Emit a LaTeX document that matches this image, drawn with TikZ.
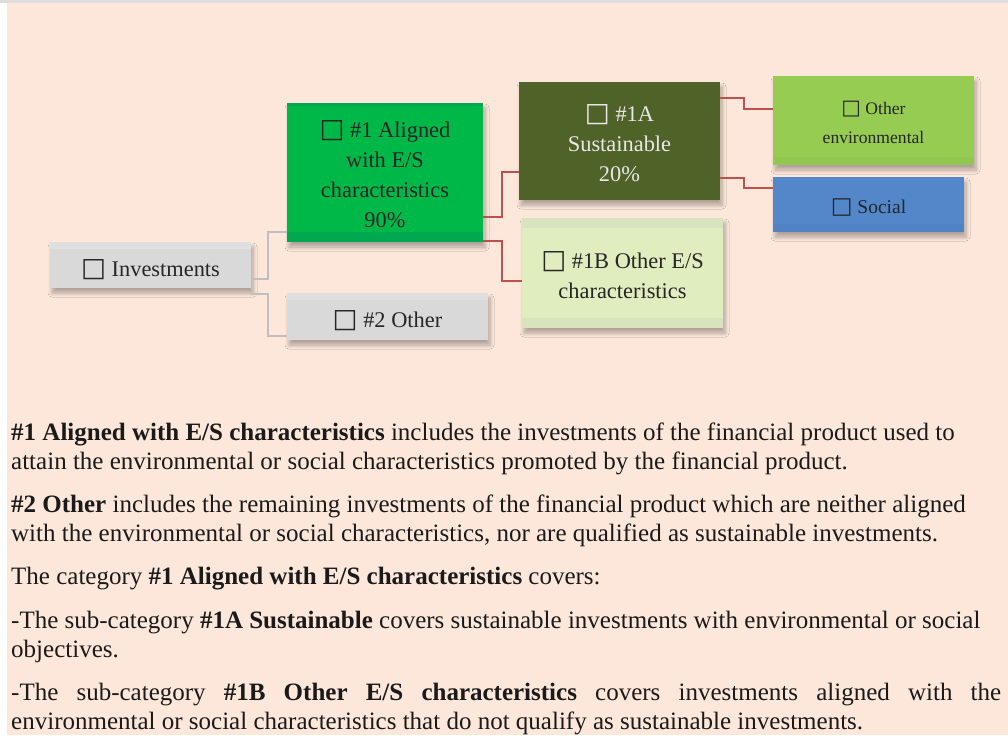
\documentclass[tikz,border=0pt]{standalone}
\usepackage{fontspec}
\setmainfont{Liberation Serif}
\newfontfamily\symf{DejaVu Sans}[Scale=1.18]
\newcommand{\sqb}{{\symf □}}
\usetikzlibrary{shadows.blur}
\definecolor{peach}{HTML}{FCE7DA}
\definecolor{topline}{HTML}{DDDDDD}
\definecolor{graybox}{HTML}{D9D9D9}
\definecolor{grayband}{HTML}{DFDFDF}
\definecolor{greenbox}{HTML}{00B847}
\definecolor{greenband}{HTML}{00A94F}
\definecolor{olivebox}{HTML}{4F6228}
\definecolor{palebox}{HTML}{E0EDBF}
\definecolor{paleband}{HTML}{D8E4BE}
\definecolor{envbox}{HTML}{97CC53}
\definecolor{envband}{HTML}{92C851}
\definecolor{socbox}{HTML}{5387CA}
\definecolor{socband}{HTML}{4F83C6}
\definecolor{boxtext}{HTML}{262626}
\definecolor{lighttext}{HTML}{E8E8E8}
\definecolor{glinec}{HTML}{BFBFBF}
\definecolor{rlinec}{HTML}{C0504D}
\definecolor{bodytext}{HTML}{1A1A1A}
\begin{document}
\begin{tikzpicture}[x=1pt,y=-1pt,
  box/.style={inner sep=0pt,
    blur shadow={shadow xshift=2pt, shadow yshift=-5pt, shadow blur radius=4pt, shadow opacity=30, shadow blur steps=8}},
  lbl/.style={inner sep=0pt, align=center, text=boxtext},
  bigtext/.style={font=\fontsize{22.4}{30}\selectfont},
  gline/.style={draw=glinec, line width=1.6pt},
  rline/.style={draw=rlinec, line width=1.5pt},
  body/.style={anchor=base west, inner sep=0pt, text=bodytext, font=\fontsize{25}{28.8}\selectfont}]
\useasboundingbox (0,0) rectangle (1008,738);
\fill[white] (0,0) rectangle (1008,738);
\fill[topline] (0,0.5) rectangle (1008,3);
\fill[peach] (7,3) rectangle (1008,735);

% boxes
\node[box, fill=graybox, minimum width=201pt, minimum height=46pt] (inv) at (150.5,265) {};
\node[box, fill=greenbox, minimum width=196pt, minimum height=139pt] (n1) at (385,172.5) {};
\node[box, fill=graybox, minimum width=201pt, minimum height=47pt] (n2) at (387.5,316.5) {};
\node[box, fill=olivebox, minimum width=201pt, minimum height=118pt] (n1a) at (619.5,141) {};
\node[box, fill=palebox, minimum width=201pt, minimum height=110pt] (n1b) at (622.5,273) {};
\node[box, fill=envbox, minimum width=201pt, minimum height=89pt] (env) at (873.5,120.5) {};
\node[box, fill=socbox, minimum width=191pt, minimum height=55pt] (soc) at (868.5,204.5) {};

% bands
\fill[greenband] (n1.north west) rectangle ([yshift=-3pt]n1.north east);
\fill[greenband] ([yshift=10pt]n1.south west) rectangle (n1.south east);
\fill[paleband] (n1b.north west) rectangle ([yshift=-10pt]n1b.north east);
\fill[paleband] ([yshift=10pt]n1b.south west) rectangle (n1b.south east);
\fill[grayband] (n2.north west) rectangle ([yshift=-7pt]n2.north east);
\fill[grayband] (inv.north west) rectangle ([yshift=-7pt]inv.north east);
\fill[envband] ([yshift=8pt]env.south west) rectangle (env.south east);
\fill[socband] ([yshift=8pt]soc.south west) rectangle (soc.south east);

% box texts
\node[lbl, bigtext] (inv-t) at ([yshift=-4.5pt]inv.center) {\sqb\ Investments};
\node[lbl, bigtext] (n1-t) at ([yshift=-2pt]n1.center) {\sqb\ \#1 Aligned\\with E/S\\characteristics\\90\%};
\node[lbl, bigtext] (n2-t) at ([yshift=-4.5pt]n2.center) {\sqb\ \#2 Other};
\node[lbl, bigtext, text=lighttext] (n1a-t) at ([yshift=-2pt]n1a.center) {\sqb\ \#1A\\Sustainable\\20\%};
\node[lbl, bigtext] (n1b-t) at ([yshift=-2pt]n1b.center) {\sqb\ \#1B Other E/S\\characteristics};
\node[lbl, font=\fontsize{17.6}{29}\selectfont] (env-t) at ([yshift=-2pt]env.center) {\sqb\ Other\\environmental};
\node[lbl, font=\fontsize{19.5}{26}\selectfont] (soc-t) at ([yshift=-3pt]soc.center) {\sqb\ Social};

% connectors
\draw[gline] ([yshift=-14pt]inv.east) -- ++(17,0) |- ([yshift=-59.5pt]n1.west);
\draw[gline] ([yshift=-29pt]inv.east) -- ++(17,0) |- ([yshift=-19.5pt]n2.west);
\draw[rline] ([yshift=-44.5pt]n1.east) -- ++(19,0) |- ([yshift=-31pt]n1a.west);
\draw[rline] ([yshift=-68.5pt]n1.east) -- ++(19,0) |- ([yshift=-8pt]n1b.west);
\draw[rline] ([yshift=43pt]n1a.east) -- ++(24,0) |- ([yshift=11.5pt]env.west);
\draw[rline] ([yshift=-37pt]n1a.east) -- ++(24,0) |- ([yshift=16.5pt]soc.west);

% body text
\node[body] (t1) at (11,440) {\textbf{\#1 Aligned with E/S characteristics} includes the investments of the financial product used to};
\node[body] (t2) at (11,469) {attain the environmental or social characteristics promoted by the financial product.};
\node[body] (t3) at (11,512.3) {\textbf{\#2 Other} includes the remaining investments of the financial product which are neither aligned};
\node[body] (t4) at (11,541) {with the environmental or social characteristics, nor are qualified as sustainable investments.};
\node[body] (t5) at (11,584) {The category \textbf{\#1 Aligned with E/S characteristics} covers:};
\node[body] (t6) at (11,628) {-The sub-category \textbf{\#1A Sustainable} covers sustainable investments with environmental or social};
\node[body] (t7) at (11,657) {objectives.};
\node[body] (t8) at (11,700.7) {\makebox[990pt][s]{-The sub-category \textbf{\#1B Other E/S characteristics} covers investments aligned with the}};
\node[body] (t9) at (11,729) {environmental or social characteristics that do not qualify as sustainable investments.};
\end{tikzpicture}
\end{document}
